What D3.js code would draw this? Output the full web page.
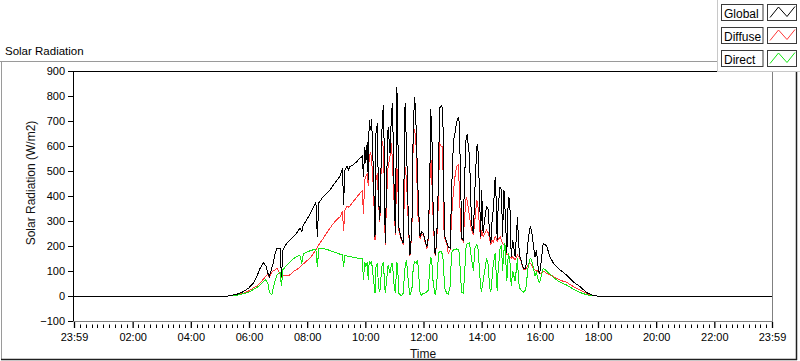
<!DOCTYPE html>
<html><head><meta charset="utf-8">
<script src="https://cdn.jsdelivr.net/npm/d3@7"></script>
<style>
body{margin:0;background:#fff;}
svg{display:block;font-family:"Liberation Sans",Arial,sans-serif;}
</style>
</head><body>
<svg id="chart" width="800" height="361"></svg>
<script>
// time of day in minutes (-1 = 23:59 of previous day)
const times = [-1,317,335,348,359,369,376,383,390,395,399,402,407,410,414,418,424,427,430,438,445,451,458,465,469,472,479,486,493,498,501,504,513,520,527,534,541,548,553,555,558,562,565,
568,575,582,589,594,596,599,601,604,606,608,611,613,617,620,622,625,627,630,634,637,639,641,644,647,651,654,656,659,662,665,667,669,673,676,678,682,685,689,692,696,699,702,705,708,711,713,716,720,723,727,730,733,735,738,740,744,747,751,753,757,
760,761,764,768,771,775,778,782,785,788,792,794,797,799,802,804,808,810,815,819,823,826,830,832,835,838,840,843,847,850,854,856,859,861,864,868,870,872,874,878,881,883,886,888,892,895,898,901,904,909,914,916,919,923,926,931,936,940,943,947,950,953,957,960,
967,974,981,988,995,1002,1015,1029,1043,1057,1070,1078,1439];

const globalRad = [0,0,7,17,31,51,77,111,133,120,91,77,111,131,171,191,191,77,184,211,224,237,251,271,257,284,304,328,357,375,237,373,397,411,424,444,461,480,511,364,504,520,504,
517,524,537,551,560,477,597,531,617,464,704,664,707,477,237,651,691,397,304,651,764,597,211,464,677,571,731,771,464,251,837,704,277,237,224,211,771,597,291,164,264,691,797,664,464,304,237,257,251,224,197,237,464,747,597,331,164,211,464,751,760,
751,491,237,217,197,191,424,624,651,691,717,691,424,231,224,424,637,644,557,291,251,424,597,604,451,237,424,251,317,357,344,251,211,291,344,477,384,224,357,437,424,237,424,357,171,397,384,157,224,157,317,211,157,131,111,111,224,277,264,197,157,184,104,91,
211,200,157,131,118,104,84,57,37,13,2,0,0];

const diffuseRad = [0,0,4,11,20,32,40,52,68,80,88,75,95,100,105,111,90,75,82,80,85,97,105,115,124,128,140,151,170,185,195,205,230,251,271,290,305,317,340,260,345,360,355,
360,377,395,411,421,330,464,477,491,440,557,577,544,424,224,464,491,380,295,624,597,464,204,397,517,560,611,531,397,245,517,464,264,231,218,205,517,464,277,160,250,651,664,597,331,291,230,245,245,218,190,230,440,571,424,304,160,205,384,611,597,
597,291,230,211,171,185,317,424,477,517,524,424,264,224,218,291,397,384,317,264,245,304,384,371,291,230,264,237,251,264,251,231,205,224,217,237,231,217,224,237,224,211,204,197,165,164,157,151,157,144,164,157,151,128,108,108,124,131,124,111,104,104,97,88,
100,91,85,78,71,63,55,38,24,10,2,0,0];

const directRad = [0,0,3,9,14,26,33,44,58,66,50,15,5,30,64,85,97,40,105,124,137,148,157,163,130,168,175,181,185,188,115,190,190,187,182,177,172,167,164,115,162,160,158,
157,155,152,150,148,64,137,117,137,64,137,131,137,64,11,117,131,37,17,117,137,77,11,64,124,91,131,131,51,11,137,104,11,4,4,11,117,144,51,4,24,117,137,131,144,64,11,4,11,11,17,24,117,157,117,51,4,37,171,177,177,
160,120,30,11,8,40,175,184,186,188,186,170,60,15,11,60,200,208,212,150,100,190,205,200,120,30,20,60,110,150,120,40,15,60,130,170,90,20,100,190,205,100,180,210,60,170,150,40,100,60,150,60,30,20,15,25,120,150,145,110,80,95,60,55,
111,100,87,75,64,55,44,28,14,5,1,0,0];

const seriesNames = ["Global","Diffuse","Direct"];
const seriesColors = ["#000000","#ff3838","#14e614"];
const yTicks = [-100,0,100,200,300,400,500,600,700,800,900];
const xTickMinutes = [-1,120,240,360,480,600,720,840,960,1080,1200,1320,1439];
const xTickLabels = ["23:59","02:00","04:00","06:00","08:00","10:00","12:00","14:00","16:00","18:00","20:00","22:00","23:59"];

const svg = d3.select("#chart");
const x = d3.scaleLinear().domain([-1,1439]).range([74,772]);
const y = d3.scaleLinear().domain([-100,900]).range([321,71]);

// outer control frame
svg.append("line").attr("x1",0).attr("x2",717).attr("y1",61.5).attr("y2",61.5).attr("stroke","#9a9a9a");
svg.append("line").attr("x1",1.5).attr("x2",1.5).attr("y1",61).attr("y2",359).attr("stroke","#9a9a9a");
svg.append("line").attr("x1",1).attr("x2",797).attr("y1",359.5).attr("y2",359.5).attr("stroke","#202020").attr("stroke-width",1.5);
svg.append("line").attr("x1",796.5).attr("x2",796.5).attr("y1",61).attr("y2",360).attr("stroke","#202020").attr("stroke-width",1.5);

svg.append("text").attr("x",5).attr("y",55).attr("font-size","11.5px").attr("fill","#000").text("Solar Radiation");

// plot area
svg.append("rect").attr("x",74).attr("y",71).attr("width",698).attr("height",250).attr("fill","#fff");

// series lines: diffuse, direct, then global on top
const order = [1,2,0];
const seriesData = [globalRad, diffuseRad, directRad];
const line = d3.line().x((d,i)=>x(times[i])).y(d=>y(d));
order.forEach(k=>{
  svg.append("path").datum(seriesData[k]).attr("d",line)
    .attr("fill","none").attr("stroke",seriesColors[k]).attr("stroke-width",1)
    .attr("shape-rendering","crispEdges");
});

// plot borders
svg.append("line").attr("x1",73).attr("x2",773).attr("y1",71.5).attr("y2",71.5).attr("stroke","#000");
svg.append("line").attr("x1",73.5).attr("x2",73.5).attr("y1",71).attr("y2",322).attr("stroke","#000");
svg.append("line").attr("x1",73).attr("x2",773).attr("y1",321.5).attr("y2",321.5).attr("stroke","#808080");
svg.append("line").attr("x1",772.5).attr("x2",772.5).attr("y1",71).attr("y2",322).attr("stroke","#808080");

// y axis
const yAxis = svg.append("g").attr("transform","translate(73,0)")
  .call(d3.axisLeft(y).tickValues(yTicks).tickSize(5).tickPadding(3));
yAxis.select(".domain").remove();
yAxis.selectAll("text").attr("font-size","11px").attr("font-family","Liberation Sans, Arial, sans-serif").attr("fill","#000");
yAxis.selectAll("line").attr("stroke","#000");

// x axis
const xAxis = svg.append("g").attr("transform","translate(0,322)")
  .call(d3.axisBottom(x).tickValues(xTickMinutes).tickFormat((d,i)=>xTickLabels[i]).tickSize(6).tickPadding(5));
xAxis.select(".domain").remove();
xAxis.selectAll("text").attr("font-size","11px").attr("font-family","Liberation Sans, Arial, sans-serif").attr("fill","#000");
xAxis.selectAll("line").attr("stroke","#000").attr("stroke-width",1.3);

// minor x ticks
const minor = [];
for (let i=0;i<xTickMinutes.length-1;i++){
  const a=xTickMinutes[i], b=xTickMinutes[i+1];
  for (let j=1;j<10;j++) minor.push(a+(b-a)*j/10);
}
svg.append("g").selectAll("line").data(minor).join("line")
  .attr("x1",d=>Math.round(x(d))+0.5).attr("x2",d=>Math.round(x(d))+0.5)
  .attr("y1",324.5).attr("y2",328).attr("stroke","#000");

// axis titles
svg.append("text").attr("transform","translate(34.5,183) rotate(-90)")
  .attr("text-anchor","middle").attr("font-size","12px").attr("fill","#111").text("Solar Radiation (W/m2)");
svg.append("text").attr("x",423).attr("y",358).attr("text-anchor","middle")
  .attr("font-size","12px").attr("fill","#111").text("Time");

// legend
const lg = svg.append("g");
lg.append("rect").attr("x",717).attr("y",0).attr("width",83).attr("height",72).attr("fill","#fff");
lg.append("line").attr("x1",717.5).attr("x2",717.5).attr("y1",0).attr("y2",72).attr("stroke","#c8c8c8");
lg.append("line").attr("x1",717).attr("x2",800).attr("y1",71.5).attr("y2",71.5).attr("stroke","#c8c8c8");
seriesNames.forEach((name,i)=>{
  const y0 = 4 + 23*i;
  lg.append("rect").attr("x",721.5).attr("y",y0+0.5).attr("width",41.5).attr("height",16)
    .attr("fill","#fff").attr("stroke","#3a3a3a");
  lg.append("text").attr("x",724).attr("y",y0+13.5).attr("font-size","12px").attr("fill","#000").text(name);
  lg.append("rect").attr("x",767.5).attr("y",y0+0.5).attr("width",29).attr("height",16)
    .attr("fill","#fff").attr("stroke","#3a3a3a");
  lg.append("path")
    .attr("d",`M770,${y0+13.5}L778.5,${y0+3}L787,${y0+12.5}L795,${y0+2.5}`)
    .attr("fill","none").attr("stroke",seriesColors[i]).attr("stroke-width",1);
});
</script>
</body></html>
